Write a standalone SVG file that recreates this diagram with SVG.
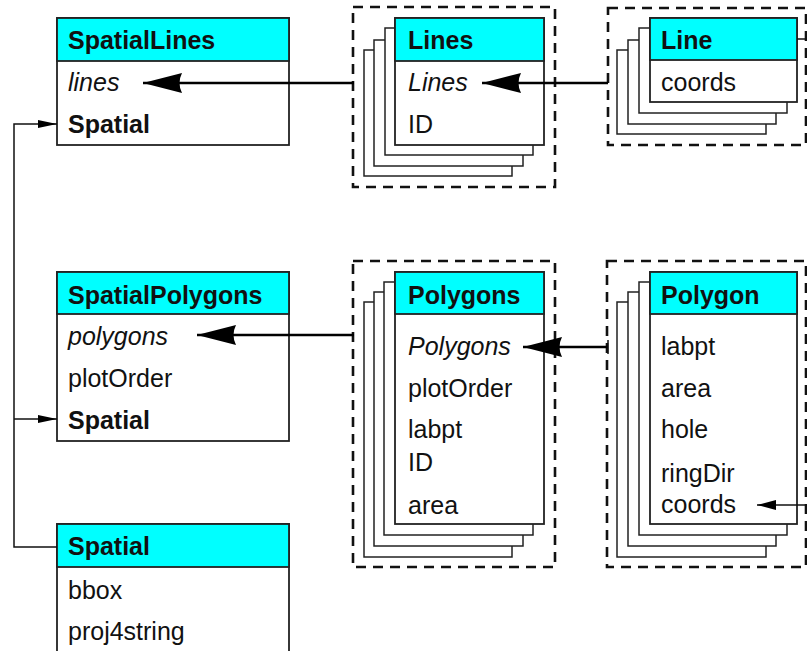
<svg xmlns="http://www.w3.org/2000/svg" width="807" height="651" viewBox="0 0 807 651">
<defs>
<marker id="big" markerUnits="userSpaceOnUse" markerWidth="40" markerHeight="22" viewBox="0 0 40 22" refX="39" refY="11" orient="auto">
<path d="M0,1 L39,11 L0,21 Q5,11 0,1 z" fill="#000"/>
</marker>
<marker id="small" markerUnits="userSpaceOnUse" markerWidth="20" markerHeight="10" viewBox="0 0 20 10" refX="19" refY="5" orient="auto">
<path d="M0,1 L19,5 L0,9 z" fill="#000"/>
</marker>
<marker id="mid" markerUnits="userSpaceOnUse" markerWidth="20" markerHeight="12" viewBox="0 0 20 12" refX="19" refY="6" orient="auto">
<path d="M0,1 L19,6 L0,11 z" fill="#000"/>
</marker>
</defs>
<style>
text{font-family:"Liberation Sans",Arial,sans-serif;font-size:25px;fill:#111}
.t{font-weight:bold}
.i{font-style:italic}
.b{font-weight:bold}
.box{fill:#fff;stroke:#222;stroke-width:1.8}
.hdr{fill:#00ffff;stroke:#222;stroke-width:1.8}
.card{fill:#fff;stroke:#222;stroke-width:1.5}
.dash{fill:none;stroke:#111;stroke-width:2.6;stroke-dasharray:10 7}
.thick{fill:none;stroke:#000;stroke-width:2.4}
.thin{fill:none;stroke:#111;stroke-width:1.5}
</style>
<rect width="807" height="651" fill="#fff"/>

<g id="SpatialLines">
<rect class="box" x="57" y="18" width="232" height="127"/>
<rect class="hdr" x="57" y="18" width="232" height="43"/>
<text class="t" x="68" y="49">SpatialLines</text>
<text class="i" x="68" y="91">lines</text>
<text class="b" x="68" y="133">Spatial</text>
</g>

<g id="SpatialPolygons">
<rect class="box" x="57" y="272" width="232" height="169"/>
<rect class="hdr" x="57" y="272" width="232" height="42"/>
<text class="t" x="68" y="304">SpatialPolygons</text>
<text class="i" x="68" y="345">polygons</text>
<text x="68" y="387">plotOrder</text>
<text class="b" x="68" y="429">Spatial</text>
</g>

<g id="Spatial">
<rect class="box" x="57" y="524" width="232" height="140"/>
<rect class="hdr" x="57" y="524" width="232" height="43"/>
<text class="t" x="68" y="555">Spatial</text>
<text x="68" y="599">bbox</text>
<text x="68" y="640">proj4string</text>
</g>

<g id="Lines">
<rect class="dash" x="353" y="7" width="202" height="180"/>
<rect class="card" x="364" y="50" width="148" height="126"/>
<rect class="card" x="374" y="40" width="149" height="126"/>
<rect class="card" x="385" y="28" width="148" height="127"/>
<rect class="box" x="395" y="18" width="149" height="127"/>
<rect class="hdr" x="395" y="18" width="149" height="43"/>
<text class="t" x="408" y="49">Lines</text>
<text class="i" x="408" y="91">Lines</text>
<text x="408" y="133">ID</text>
</g>

<g id="Line">
<rect class="dash" x="608" y="8" width="198" height="137"/>
<rect class="card" x="617" y="50" width="149" height="84"/>
<rect class="card" x="628" y="40" width="148" height="84"/>
<rect class="card" x="639" y="28" width="148" height="85"/>
<rect class="box" x="650" y="18" width="147" height="84"/>
<rect class="hdr" x="650" y="18" width="147" height="42"/>
<text class="t" x="661" y="49">Line</text>
<text x="661" y="91">coords</text>
</g>

<g id="Polygons">
<rect class="dash" x="353" y="261" width="202" height="306"/>
<rect class="card" x="364" y="302" width="148" height="255"/>
<rect class="card" x="374" y="292" width="149" height="254"/>
<rect class="card" x="384" y="282" width="149" height="253"/>
<rect class="box" x="395" y="272" width="149" height="252"/>
<rect class="hdr" x="395" y="272" width="149" height="42"/>
<text class="t" x="408" y="304">Polygons</text>
<text class="i" x="408" y="355">Polygons</text>
<text x="408" y="397">plotOrder</text>
<text x="408" y="438">labpt</text>
<text x="408" y="471">ID</text>
<text x="408" y="514">area</text>
</g>

<g id="Polygon">
<rect class="dash" x="607" y="261" width="199" height="306"/>
<rect class="card" x="617" y="302" width="149" height="255"/>
<rect class="card" x="628" y="292" width="148" height="254"/>
<rect class="card" x="639" y="282" width="148" height="253"/>
<rect class="box" x="650" y="272" width="147" height="252"/>
<rect class="hdr" x="650" y="272" width="147" height="42"/>
<text class="t" x="661" y="304">Polygon</text>
<text x="661" y="355">labpt</text>
<text x="661" y="397">area</text>
<text x="661" y="438">hole</text>
<text x="661" y="482">ringDir</text>
<text x="661" y="513">coords</text>
</g>

<g id="connectors">
<path class="thick" d="M354,83 L143,83" marker-end="url(#big)"/>
<path class="thick" d="M608,83 L482,83" marker-end="url(#big)"/>
<path class="thick" d="M354,335 L197,335" marker-end="url(#big)"/>
<path class="thick" d="M608,347 L523,347" marker-end="url(#big)"/>
<path class="thin" d="M608,340 L608,354"/>
<path class="thin" d="M807,505 L757,505" marker-end="url(#mid)"/>
<path class="thin" d="M797,39 L807,39"/>
<path class="thin" d="M57,547 L14,547 L14,124 L57,124" marker-end="url(#small)"/>
<path class="thin" d="M14,419 L57,419" marker-end="url(#small)"/>
</g>
</svg>
